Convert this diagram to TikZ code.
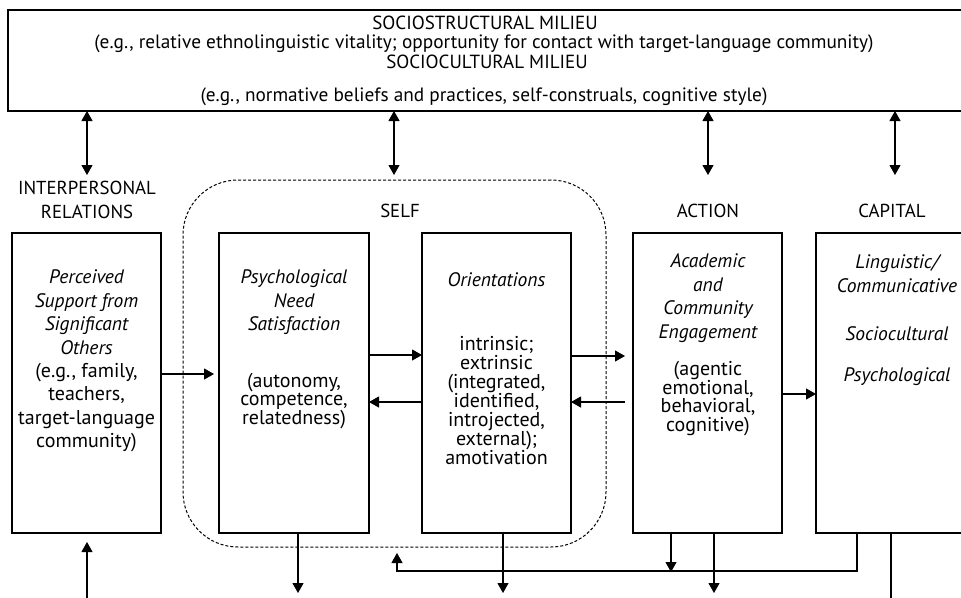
\documentclass[tikz,border=0pt]{standalone}
\usepackage{fontspec}
\setmainfont{PT Sans}
\usetikzlibrary{arrows.meta}
\newcommand\firstlinestrut{\rule{0pt}{22pt}}
\begin{document}
\begin{tikzpicture}[x=1pt,y=-1pt,
  every node/.style={inner sep=0pt, outer sep=0pt},
  box/.style={draw, line width=1.1pt, minimum width=149pt, minimum height=300pt},
  zone/.style={draw, line width=1pt, dash pattern=on 3pt off 2pt, rounded corners=55pt},
  toptext/.style={anchor=base, font=\fontsize{19.3}{20}\selectfont},
  topcaps/.style={anchor=base, font=\fontsize{19}{20}\selectfont},
  heading/.style={anchor=base, font=\fontsize{18.8}{20}\selectfont},
  blk/.style={anchor=north, yshift=22pt, align=center, execute at begin node=\firstlinestrut},
  title/.style={blk, font=\fontsize{19.5}{23.4}\selectfont\itshape},
  detail/.style={blk, font=\fontsize{20}{18.8}\selectfont},
  wire/.style={line width=1.1pt},
  arr/.style={wire, -{Triangle[length=10pt,width=11pt]}},
  dbl/.style={wire, {Triangle[length=10pt,width=11pt]}-{Triangle[length=10pt,width=11pt]}}
]
\useasboundingbox (0,0) rectangle (961,597);
\fill[white] (0,0) rectangle (961,597);
\clip (0,0) rectangle (961,597);

% milieu band across the top
\node[box, minimum width=956pt, minimum height=101pt] (milieu) at (486,60.5) {};
\node[topcaps] (m1) at (485,29) {SOCIOSTRUCTURAL MILIEU};
\node[toptext] (m2) at (484,48.5) {(e.g., relative ethnolinguistic vitality; opportunity for contact with target-language community)};
\node[topcaps] (m3) at (487,68) {SOCIOCULTURAL MILIEU};
\node[toptext] (m4) at (484,101) {(e.g., normative beliefs and practices, self-construals, cognitive style)};

% column headings
\node[heading] (hip1) at (87,194) {INTERPERSONAL};
\node[heading] (hip2) at (87,218) {RELATIONS};
\node[heading] (hself) at (400,217) {SELF};
\node[heading] (hact) at (708,217) {ACTION};
\node[heading] (hcap) at (892,217) {CAPITAL};

% dashed region around the self
\node[zone, minimum width=423pt, minimum height=367pt] (selfzone) at (394.5,363.5) {};

% boxes
\node[box] (b1) at (86.5,383) {};
\node[box, minimum width=150pt] (b2) at (294,383) {};
\node[box] (b3) at (496.5,383) {};
\node[box] (b4) at (707.5,383) {};
\node[box, minimum width=159pt] (b5) at (895.5,383) {};

% box contents
\node[title] (t1a) at (86.5,292) {Perceived\\Support from\\Significant\\Others};
\node[blk, font=\fontsize{20}{23.4}\selectfont] (t1b) at (86.5,385) {(e.g., family,\\teachers,\\target-language\\community)};

\node[title] (t2a) at (294,292) {Psychological\\Need\\Satisfaction};
\node[detail, font=\fontsize{20}{18.5}\selectfont] (t2b) at (294,395) {(autonomy,\\competence,\\relatedness)};

\node[title] (t3a) at (496.5,286) {Orientations};
\node[detail, font=\fontsize{20}{19}\selectfont] (t3b) at (496.5,358) {intrinsic;\\extrinsic\\(integrated,\\identified,\\introjected,\\external);\\amotivation};

\node[title, font=\fontsize{19.5}{23.5}\selectfont\itshape] (t4a) at (708,276) {Academic\\and\\Community\\Engagement};
\node[detail] (t4b) at (708,383) {(agentic\\emotional,\\behavioral,\\cognitive)};

\node[title, font=\fontsize{19.5}{23.5}\selectfont\itshape] (t5a) at (897,277) {Linguistic/\\Communicative};
\node[title] (t5b) at (897,340) {Sociocultural};
\node[title] (t5c) at (897,381) {Psychological};

% links to the milieu
\coordinate (ua) at (87,175);
\coordinate (ub) at (394,175);
\coordinate (uc) at (708,175);
\coordinate (ud) at (895,175);
\draw[dbl] (milieu.south -| ua) -- (ua);
\draw[dbl] (milieu.south -| ub) -- (ub);
\draw[dbl] (milieu.south -| uc) -- (uc);
\draw[dbl] (milieu.south -| ud) -- (ud);

% links between boxes
\draw[arr, shorten >=5pt] (b1.east |- 0,374) -- (b2.west |- 0,374);
\draw[arr] (b2.east |- 0,355) -- (b3.west |- 0,355);
\draw[arr] (b3.west |- 0,402) -- (b2.east |- 0,402);
\draw[arr, shorten >=8pt] (b3.east |- 0,356) -- (b4.west |- 0,356);
\draw[arr, shorten <=8pt] (b4.west |- 0,402) -- (b3.east |- 0,402);
\draw[arr] (b4.east |- 0,394) -- (b5.west |- 0,394);

% links leaving the bottom
\coordinate (bl) at (87,600);
\coordinate (d2) at (298,593);
\coordinate (d3) at (503,593);
\coordinate (d4) at (714,593);
\coordinate (j4) at (671,572);
\coordinate (fr) at (857,571);
\coordinate (fb) at (397,553);
\coordinate (e5) at (891,600);
\draw[arr, shorten >=9pt] (bl) -- (b1.south -| bl);
\draw[arr] (b2.south -| d2) -- (d2);
\draw[arr] (b3.south -| d3) -- (d3);
\draw[arr] (b4.south -| d4) -- (d4);
\draw[arr] (b4.south -| j4) -- (j4);
\draw[arr] (b5.south -| fr) -- (fr) -| (fb);
\draw[wire] (b5.south -| e5) -- (e5);
\end{tikzpicture}
\end{document}
